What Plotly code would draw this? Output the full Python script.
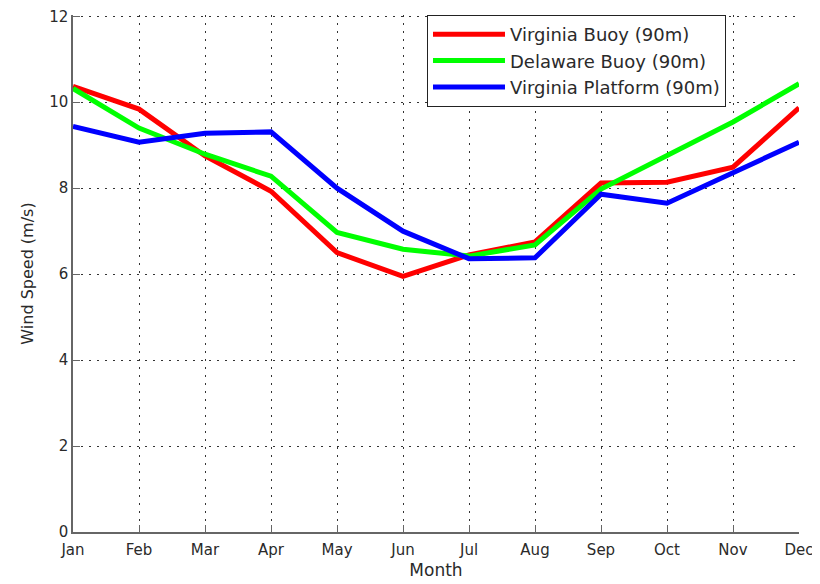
import plotly.graph_objects as go

months = ["Jan", "Feb", "Mar", "Apr", "May", "Jun", "Jul", "Aug", "Sep", "Oct", "Nov", "Dec"]
virginia_buoy = [10.37, 9.84, 8.75, 7.93, 6.50, 5.95, 6.45, 6.75, 8.12, 8.14, 8.49, 9.87]
delaware_buoy = [10.32, 9.40, 8.79, 8.28, 6.97, 6.58, 6.42, 6.68, 7.98, 8.75, 9.54, 10.43]
virginia_platform = [9.44, 9.07, 9.28, 9.31, 8.00, 7.00, 6.36, 6.38, 7.86, 7.65, 8.36, 9.07]
y_ticks = [0, 2, 4, 6, 8, 10, 12]

fig = go.Figure()
for name, vals, col in [
    ("Virginia Buoy (90m)", virginia_buoy, "#ff0000"),
    ("Delaware Buoy (90m)", delaware_buoy, "#00ff00"),
    ("Virginia Platform (90m)", virginia_platform, "#0000ff"),
]:
    fig.add_trace(go.Scatter(x=list(range(len(months))), y=vals, mode="lines", name=name,
                             line=dict(color=col, width=5)))

fig.update_layout(
    width=820, height=584,
    margin=dict(l=65, r=29, t=7, b=60),
    plot_bgcolor="white", paper_bgcolor="white",
    font=dict(family="DejaVu Sans", size=15, color="#2a2a2a"),
    showlegend=True,
    legend=dict(x=0.4876, y=1.0, xanchor="left", yanchor="top",
                bgcolor="white", bordercolor="#222222", borderwidth=1,
                font=dict(size=18), tracegroupgap=0, itemwidth=72),
    xaxis=dict(range=[0, 11], tickmode="array", tickvals=list(range(12)), ticktext=months,
               showgrid=True, gridcolor="#333333", griddash="2px,6px", gridwidth=1,
               showline=True, linecolor="#666666", linewidth=1.5,
               ticks="inside", ticklen=7, tickcolor="#666666", automargin=False,
               ticklabeloverflow="allow", ticklabelstandoff=3,
               title=dict(text="Month", standoff=6, font=dict(size=17)), zeroline=False),
    yaxis=dict(range=[0, 12.03], tickvals=y_ticks,
               showgrid=True, gridcolor="#333333", griddash="2px,6px", gridwidth=1,
               showline=True, linecolor="#666666", linewidth=1.5,
               ticks="inside", ticklen=7, tickcolor="#666666", automargin=False,
               ticklabeloverflow="allow",
               title=dict(text="Wind Speed (m/s)", standoff=12, font=dict(size=16)), zeroline=False),
)
fig.write_html("out.html")
